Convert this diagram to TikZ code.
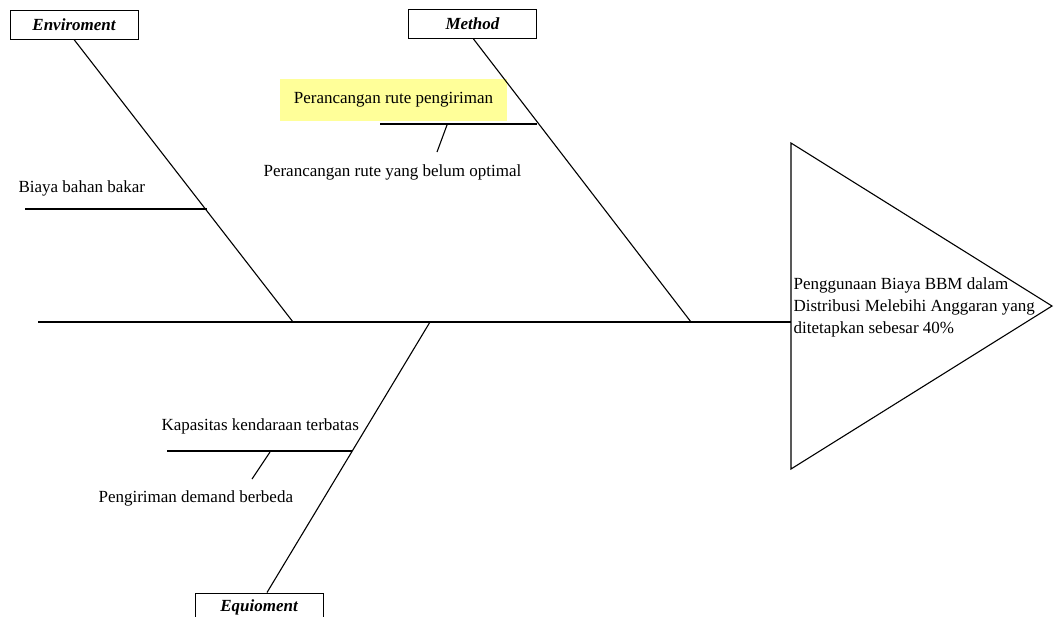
\documentclass[tikz,border=0pt]{standalone}
\usepackage{fontspec}
\setmainfont{Liberation Serif}
\definecolor{hilite}{RGB}{255,255,153}
\begin{document}
\begin{tikzpicture}[x=1pt,y=-1pt,line width=1.1pt,
    font=\fontsize{17}{22}\selectfont]
        \useasboundingbox (0,0) rectangle (1054,616);

        % category boxes
        \begin{scope}[every node/.style={draw,line width=1pt,minimum width=128pt,
            minimum height=29pt,inner sep=0pt,font=\fontsize{17}{22}\selectfont\bfseries\itshape}]
          \node (env)   at (74,24.5)   {Enviroment};
          \node (meth)  at (472.5,24)  {Method};
          \node (equip) at (259,607.5) {Equioment};
        \end{scope}

        % points on the spine and on the bones
        \coordinate (tail)    at (38,322);
        \coordinate (head)    at (791,322);
        \coordinate (envjoin) at (293,322);
        \coordinate (eqjoin)  at (430,322);
        \coordinate (mejoin)  at (691,322);
        \coordinate (envA)    at (25,209);
        \coordinate (envB)    at (207,209);
        \coordinate (meA)     at (380,124);
        \coordinate (meB)     at (537,124);
        \coordinate (meT)     at (447,125);
        \coordinate (meU)     at (437,152);
        \coordinate (eqA)     at (167,451);
        \coordinate (eqB)     at (352,451);
        \coordinate (eqT)     at (270,452);
        \coordinate (eqU)     at (252,479);

        % head of the fish
        \coordinate (top) at (791,143);
        \coordinate (tip) at (1052,306);
        \coordinate (bot) at (791,469);
        \draw (top) -- (tip) -- (bot) -- cycle;
        \node[anchor=west,align=left,inner sep=0pt] (effect) at (793,307.5)
          {Penggunaan Biaya BBM dalam\\Distribusi Melebihi Anggaran yang\\ditetapkan sebesar 40\%};

        % labels
        \node[fill=hilite,minimum width=227pt,minimum height=42pt,inner sep=0pt] (rute) at (393.5,100)
          {Perancangan rute pengiriman};
        \begin{scope}[every node/.style={anchor=west,inner sep=0pt}]
          \node (bbm)   at (18,188)  {Biaya bahan bakar};
          \node (opt)   at (263,172) {Perancangan rute yang belum optimal};
          \node (kap)   at (161,426) {Kapasitas kendaraan terbatas};
          \node (dem)   at (98,498)  {Pengiriman demand berbeda};
        \end{scope}

        % bones
        \draw (tail) -- (head);
        \draw (env.south) -- (envjoin);
        \draw ([xshift=1pt]meth.south) -- (mejoin);
        \draw ([xshift=8pt]equip.north) -- (eqjoin);
        \draw (envA) -- (envB);
        \draw (meA) -- (meB);
        \draw (meT) -- (meU);
        \draw (eqA) -- (eqB);
        \draw (eqT) -- (eqU);

      \end{tikzpicture}
\end{document}
